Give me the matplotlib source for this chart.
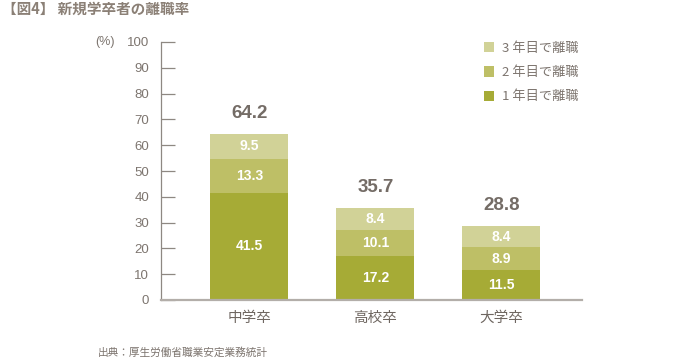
import matplotlib.pyplot as plt
import numpy as np

# data
categories = ['中学卒', '高校卒', '大学卒']
year1 = [41.5, 17.2, 11.5]
year2 = [13.3, 10.1, 8.9]
year3 = [9.5, 8.4, 8.4]
totals = [64.2, 35.7, 28.8]
series_names = ['1 年目で離職', '2 年目で離職', '3 年目で離職']
yticks = [0, 10, 20, 30, 40, 50, 60, 70, 80, 90, 100]

# style
colors = ['#a6ab36', '#bebf66', '#d1d297']
jp = ['Noto Sans CJK JP', 'DejaVu Sans']
num = ['Liberation Sans', 'DejaVu Sans']
gray = '#7d756f'

fig = plt.figure(figsize=(6.8, 3.58), dpi=100)
ax = fig.add_axes([161 / 680, 1 - 300 / 358, (582 - 161) / 680, 258 / 358])

x = np.arange(len(categories))
w = 0.62
bottom = np.zeros(len(categories))
bars = []
for vals, c, name in zip([year1, year2, year3], colors, series_names):
    b = ax.bar(x, vals, w, bottom=bottom, color=c, label=name, zorder=2)
    bars.append(b)
    for xi, v, b0 in zip(x, vals, bottom):
        ax.text(xi, b0 + v / 2, f'{v:.1f}', ha='center', va='center',
                color='white', fontsize=10, fontweight='bold', family=num)
    bottom = bottom + np.array(vals)

for xi, t, top in zip(x, totals, bottom):
    ax.text(xi, top + 4.5, f'{t:.1f}', ha='center', va='bottom',
            color='#746c66', fontsize=13.5, fontweight='bold', family=num)

ax.set_xlim(-0.702, 2.64)
ax.set_ylim(0, 100)
ax.set_yticks(yticks)
ax.set_yticklabels([str(t) for t in yticks], family=num, fontsize=9.5, color=gray)
ax.tick_params(axis='y', direction='in', length=10, width=0.9, color='#8e8882', pad=8.5)
ax.set_xticks(x)
ax.set_xticklabels(categories, family=jp, fontsize=10.5, color='#6f6761')
ax.tick_params(axis='x', length=0, pad=8)

for s in ['top', 'right']:
    ax.spines[s].set_visible(False)
ax.spines['left'].set_color('#8e8882')
ax.spines['left'].set_linewidth(0.9)
ax.spines['bottom'].set_color('#b3aea9')
ax.spines['bottom'].set_linewidth(1.6)
ax.spines['bottom'].set_zorder(3)

fig.text(115 / 680, 1 - 42 / 358, '(%)', ha='right', va='center',
         family=num, fontsize=9, color=gray)

leg = ax.legend(handles=bars[::-1], loc='upper left', bbox_to_anchor=(472 / 680, 1 - 30 / 358),
                bbox_transform=fig.transFigure, frameon=False, prop={'family': jp, 'size': 9.5},
                handlelength=0.8, handleheight=0.8, handletextpad=0.6, labelspacing=0.85)
for t in leg.get_texts():
    t.set_color(gray)

fig.text(2 / 680, 1 - 9 / 358, '【図4】 新規学卒者の離職率', family=jp, fontsize=10.5,
         fontweight='bold', color='#8b8076', ha='left', va='center')
fig.text(98 / 680, 1 - 352 / 358, '出典：厚生労働省職業安定業務統計', family=jp, fontsize=7.7,
         color='#7d756f', ha='left', va='center')

fig.savefig('out.png', dpi=100)
